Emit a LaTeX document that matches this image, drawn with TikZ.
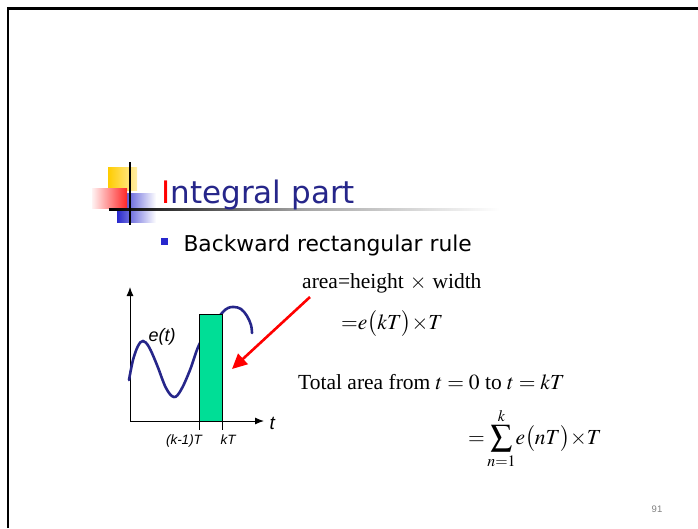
\documentclass[tikz,border=0pt]{standalone}
\usepackage{mathptmx}
\usepackage{fontspec}
\setmainfont{Liberation Serif}
\setsansfont{DejaVu Sans}
\newfontfamily\arialfont{Liberation Sans}
\usetikzlibrary{calc, positioning}
\usetikzlibrary{arrows.meta}

\definecolor{slidenavy}{RGB}{38,38,138}
\definecolor{barmint}{RGB}{0,222,150}
\definecolor{logoyellow}{RGB}{255,204,0}
\definecolor{logoblue}{RGB}{40,40,205}

\begin{document}
\begin{tikzpicture}[x=1pt,y=-1pt,
  curve/.style={line width=2.6pt, slidenavy, line cap=round},
  axis/.style={line width=1pt, -{Latex[length=9pt,width=7pt]}},
  eqtext/.style={anchor=base west, inner sep=0pt, font=\fontsize{21.5}{24}\selectfont},
  ticklabel/.style={anchor=base, font=\arialfont\itshape\fontsize{13.5}{15}\selectfont}]
\def\axisy{421}
\def\axisx{130}
\def\barleft{199}
\def\barright{222}
\def\bartop{314}

\useasboundingbox (0,0) rectangle (698,528);
\draw[line width=2.6pt] (8,528) -- (8,8.7) -- (698,8.7);

% logo
\shade[left color=logoyellow, right color=logoyellow!35] (108,167) rectangle (137,190);
\shade[left color=logoblue, right color=white] (117,193) rectangle (156,222);
\shade[left color=red!5, right color=red!85] (92,188) rectangle (127,208);
\shade[left color=black, right color=white, middle color=gray!70] (109,208.5) rectangle (500,210.5);
\draw[line width=2pt] (130,162) -- (130,225);

\node[anchor=base west, text=slidenavy, font=\sffamily\fontsize{31}{36}\selectfont] (title) at (158,203) {\textcolor{red}{I}ntegral part};
\fill[logoblue] (161,238) rectangle (168,245);
\node[anchor=base west, font=\sffamily\fontsize{21.8}{24}\selectfont] (rule) at (180,251) {Backward rectangular rule};

% graph
\coordinate (O) at (\axisx,\axisy);
\coordinate (ytip) at (\axisx,287);
\coordinate (xtip) at (264,\axisy);
\draw[axis] (O) -- (ytip);
\draw[axis] (O) -- (xtip);
\draw[curve] plot[smooth, tension=0.6] coordinates {(129,380) (133,360) (138,346) (143,341) (149,347) (157,365) (166,388) (174,397) (181,390) (190,370) (199,345) (210,328) (222,313) (228,308) (234,307) (241,309) (247,316) (251,325) (252,333)};
\draw[fill=barmint, line width=0.8pt] (\barleft,\bartop) rectangle (\barright,\axisy);
\draw[line width=0.8pt] (\barleft,\axisy) -- (\barleft,430);
\draw[line width=0.8pt] (\barright,\axisy) -- (\barright,430);
\node[ticklabel] (kprev) at (184,444) {(k-1)T};
\node[ticklabel] (kT) at (228,444) {kT};
\node[anchor=base west, font=\arialfont\itshape\fontsize{19}{20}\selectfont] (tlabel) at (266,429) {t};
\node[anchor=base west, font=\arialfont\itshape\fontsize{18}{20}\selectfont] (elabel) at (145,341) {e(t)};

% formulas
\node[eqtext] (area) at (302,288) {area=height\;$\times$\;width};
\node[eqtext] (areaeq) at (341,329) {$\mathord{=}e\big(kT\big)\mathord{\times}T$};
\node[eqtext] (total) at (298,389) {Total area from $t=0$ to $t=kT$};
\node[eqtext] (sum) at (468,444) {$\displaystyle\mathord{=}\sum_{n=1}^{k}\!e\big(nT\big)\mathord{\times}T$};
\coordinate (arrowtip) at (232,369);
\draw[red, line width=2.6pt, -{Triangle[length=15pt,width=14pt]}] ($(area.base west)+(8,9)$) -- (arrowtip);

\node[anchor=base, text=gray, font=\arialfont\fontsize{9.5}{11}\selectfont] (pagenum) at (657,512) {91};
\end{tikzpicture}
\end{document}
